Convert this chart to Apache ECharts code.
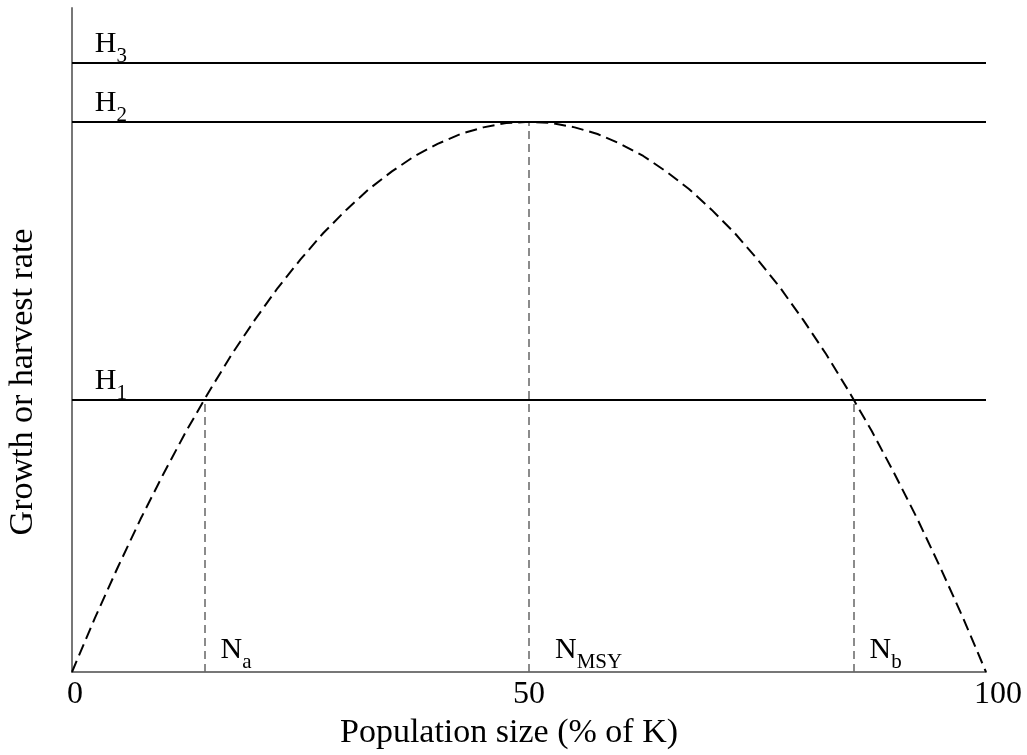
<!DOCTYPE html>
<html>
<head>
<meta charset="utf-8">
<script src="https://cdn.jsdelivr.net/npm/echarts@6/dist/echarts.min.js"></script>
<style>
  html, body { margin: 0; padding: 0; background: #fff; }
  #chart { width: 1027px; height: 755px; }
</style>
</head>
<body>
<div id="chart"></div>
<script>
// population size, % of K
const popPct = [0, 2.5, 5, 7.5, 10, 12.5, 15, 17.5, 20, 22.5, 25, 27.5, 30, 32.5, 35, 37.5, 40, 42.5, 45, 47.5,
  50, 52.5, 55, 57.5, 60, 62.5, 65, 67.5, 70, 72.5, 75, 77.5, 80, 82.5, 85, 87.5, 90, 92.5, 95, 97.5, 100];
// growth rate (peak = 100)
const growth = [0, 9.8, 19, 27.8, 36, 43.8, 51, 57.8, 64, 69.8, 75, 79.8, 84, 87.8, 91, 93.8, 96, 97.8, 99, 99.8,
  100, 99.8, 99, 97.8, 96, 93.8, 91, 87.8, 84, 79.8, 75, 69.8, 64, 57.8, 51, 43.8, 36, 27.8, 19, 9.8, 0];

// harvest levels H1, H2, H3
const harvestNames = ['1', '2', '3'];
const harvestLevels = [49.5, 100, 110.7];

// equilibrium points Na, NMSY, Nb
const eqNames = ['a', 'MSY', 'b'];
const eqPop = [14.5, 50, 85.5];
const eqRate = [49.5, 100, 49.5];

const xTicks = [0, 50, 100];

const serif = '"Liberation Serif", "Times New Roman", serif';

const subRich = {
  b: {fontFamily: serif, fontSize: 30, lineHeight: 30, verticalAlign: 'top', color: '#000'},
  s: {fontFamily: serif, fontSize: 21, lineHeight: 21, verticalAlign: 'top', color: '#000', padding: [17, 0, 0, 0]}
};

const labelBase = {
  show: true,
  position: [0, 0],
  align: 'left',
  verticalAlign: 'bottom',
  color: '#000',
  opacity: 1,
  textBorderWidth: 0,
  rich: subRich
};

const chart = echarts.init(document.getElementById('chart'));

const option = {
  animation: false,
  grid: {left: 72, right: 41, top: 8, bottom: 83, outerBoundsMode: 'none', containLabel: false},
  xAxis: {
    type: 'value',
    min: 0,
    max: 100,
    interval: 50,
    name: 'Population size (% of K)',
    nameLocation: 'middle',
    nameGap: 40,
    nameTextStyle: {fontFamily: serif, fontSize: 34, color: '#000', padding: [0, 40, 0, 0]},
    axisLine: {lineStyle: {color: '#777', width: 2}},
    axisTick: {show: false},
    splitLine: {show: false},
    axisLabel: {
      margin: 7,
      fontFamily: serif, fontSize: 32, color: '#000',
      formatter: v => {
        if (!xTicks.includes(v)) return '';
        if (v === 0) return '{lo|' + v + '}';
        if (v === 100) return '{hi|' + v + '}';
        return String(v);
      },
      rich: {
        lo: {fontFamily: serif, fontSize: 32, color: '#000', padding: [0, 0, 0, 6]},
        hi: {fontFamily: serif, fontSize: 32, color: '#000', padding: [0, 0, 0, 24]}
      }
    }
  },
  yAxis: {
    type: 'value',
    min: 0,
    max: 120.7,
    name: 'Growth or harvest rate',
    nameLocation: 'middle',
    nameGap: 32,
    nameTextStyle: {fontFamily: serif, fontSize: 34, color: '#000', padding: [0, 84, 0, 0]},
    axisLine: {show: true, lineStyle: {color: '#777', width: 2}},
    axisTick: {show: false},
    axisLabel: {show: false},
    splitLine: {show: false}
  },
  series: [
    {
      // harvest lines
      type: 'line',
      data: [],
      silent: true,
      markLine: {
        symbol: 'none',
        silent: true,
        label: {show: false},
        lineStyle: {color: '#000', width: 2, type: 'solid'},
        data: harvestLevels.map(h => ({yAxis: h}))
      }
    },
    {
      // vertical dashed drops at equilibria
      type: 'line',
      data: [],
      silent: true,
      markLine: {
        symbol: 'none',
        silent: true,
        label: {show: false},
        lineStyle: {color: '#666', width: 1.5, type: [8, 5]},
        data: eqPop.map((x, i) => [{coord: [x, 0]}, {coord: [x, eqRate[i]]}])
      }
    },
    {
      // growth curve
      type: 'line',
      data: popPct.map((x, i) => [x, growth[i]]),
      symbol: 'none',
      smooth: false,
      lineStyle: {color: '#000', width: 2, type: [12, 6]},
      z: 5
    },
    {
      // H labels
      type: 'scatter',
      symbolSize: 0,
      itemStyle: {opacity: 1},
      data: harvestLevels.map((h, i) => [2.5, h, harvestNames[i]]),
      label: Object.assign({}, labelBase, {
        offset: [0, -4],
        formatter: p => '{b|H}{s|' + p.data[2] + '}'
      })
    },
    {
      // N labels
      type: 'scatter',
      symbolSize: 0,
      itemStyle: {opacity: 1},
      data: eqPop.map((x, i) => ({
        value: [x, 0, eqNames[i]],
        label: {offset: [eqNames[i] === 'MSY' ? 26 : 16, -7]}
      })),
      label: Object.assign({}, labelBase, {
        formatter: p => '{b|N}{s|' + p.data.value[2] + '}'
      })
    }
  ]
};

chart.setOption(option);
</script>
</body>
</html>
